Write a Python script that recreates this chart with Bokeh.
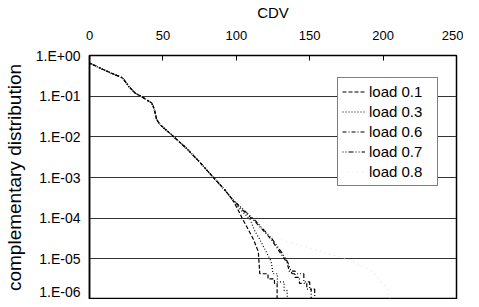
from bokeh.plotting import figure
from bokeh.models import FixedTicker, CustomJSTickFormatter, Range1d, Legend, LegendItem
from bokeh.embed import file_html
from bokeh.resources import INLINE

# ---- data ----
x_ticks = [0, 50, 100, 150, 200, 250]
y_ticks = [1, 1e-1, 1e-2, 1e-3, 1e-4, 1e-5, 1e-6]
y_tick_labels = ["1.E+00", "1.E-01", "1.E-02", "1.E-03", "1.E-04", "1.E-05", "1.E-06"]

head_cdv = [0, 0, 3, 10, 18, 22.6, 27, 31, 37, 42.4, 44, 45.7, 48, 55, 66.6, 75, 85, 92, 97]
head_prob = [1.0, 0.65, 0.58, 0.44, 0.33, 0.28, 0.17, 0.12, 0.09, 0.068, 0.05, 0.027,
             0.02, 0.012, 0.005, 0.0024, 0.00095, 0.0005, 0.0003]

load01_cdv = [101, 104, 108, 111.7, 115, 116, 121.6, 121.6, 126, 126, 127.8, 127.8]
load01_prob = [1.66e-4, 1e-4, 5.4e-5, 3.0e-5, 1.5e-5, 4.3e-6, 4.3e-6, 3.2e-6, 3.2e-6, 2.5e-6, 2.5e-6, 1e-7]

load03_cdv = [103, 109.5, 112.8, 116, 123.8, 125, 128, 128, 132.6, 132.6, 134.7, 134.7]
load03_prob = [1.6e-4, 9.1e-5, 4.7e-5, 3.0e-5, 8.5e-6, 4.3e-6, 4.3e-6, 2.7e-6, 2.7e-6, 1.66e-6, 1.66e-6, 1e-7]

load06_cdv = [105, 112.8, 123.8, 130, 134.7, 136, 140, 140, 143, 143, 148, 148, 151, 151]
load06_prob = [1.5e-4, 8.3e-5, 3.0e-5, 1.4e-5, 7.9e-6, 5e-6, 5e-6, 3.5e-6, 3.5e-6, 2.5e-6,
               2.5e-6, 1.8e-6, 1.8e-6, 1e-7]

load07_cdv = [105, 113, 124, 130, 135, 138, 146, 146, 150, 150, 153.4, 153.4]
load07_prob = [1.6e-4, 8.7e-5, 3.2e-5, 1.6e-5, 8.3e-6, 4.3e-6, 4.3e-6, 2.7e-6, 2.7e-6, 1.8e-6, 1.8e-6, 1e-7]

load08_cdv = [105, 113, 124, 161.6, 175.5, 190, 194, 198.5, 202.5, 204.5, 205]
load08_prob = [1.6e-4, 8.9e-5, 3.5e-5, 1.35e-5, 1e-5, 5.6e-6, 4.5e-6, 2.7e-6, 2e-6, 1.1e-6, 1e-7]

series = [
    ("load 0.1", load01_cdv, load01_prob, "black", "4 2"),
    ("load 0.3", load03_cdv, load03_prob, "black", "1 2"),
    ("load 0.6", load06_cdv, load06_prob, "black", "4 2 1 2"),
    ("load 0.7", load07_cdv, load07_prob, "black", "1 2 1 2 5 2"),
    ("load 0.8", load08_cdv, load08_prob, "#e2e2e2", "1 4"),
]

FONT = "Liberation Sans"

p = figure(width=463, height=299, x_axis_location="above", y_axis_type="log",
           x_range=Range1d(0, 250), y_range=Range1d(1e-6, 1),
           output_backend="svg", toolbar_location=None,
           min_border_left=81, min_border_right=7, min_border_top=48, min_border_bottom=0)

p.background_fill_color = "white"
p.border_fill_color = "white"
p.outline_line_color = "black"
p.outline_line_width = 1.5

xa = p.xaxis[0]
xa.ticker = FixedTicker(ticks=x_ticks)
xa.axis_label = "CDV"
xa.axis_label_text_font = FONT
xa.axis_label_text_font_size = "15px"
xa.axis_label_text_font_style = "normal"
xa.axis_label_text_color = "black"
xa.axis_label_standoff = 7
xa.major_label_text_font = FONT
xa.major_label_text_font_size = "13px"
xa.major_label_text_color = "black"
xa.major_label_standoff = 16
xa.major_tick_in = 5
xa.major_tick_out = 0
xa.minor_tick_line_color = None
xa.axis_line_color = "black"
xa.major_tick_line_color = "black"

ya = p.yaxis[0]
ya.ticker = FixedTicker(ticks=y_ticks)
ya.formatter = CustomJSTickFormatter(args=dict(labels=y_tick_labels),
                                     code="const i = Math.round(-Math.log10(tick)); return labels[i];")
ya.axis_label = "complementary distribution"
ya.axis_label_text_font = FONT
ya.axis_label_text_font_size = "19px"
ya.axis_label_text_font_style = "normal"
ya.axis_label_text_color = "black"
ya.axis_label_standoff = 8
ya.major_label_text_font = FONT
ya.major_label_text_font_size = "14px"
ya.major_label_text_color = "black"
ya.major_label_standoff = 9
ya.major_tick_in = 0
ya.major_tick_out = 0
ya.minor_tick_line_color = None
ya.axis_line_color = "black"
ya.axis_line_width = 1.5

p.xgrid.visible = False
p.ygrid.grid_line_color = "#333333"
p.ygrid.grid_line_width = 1

items = []
for name, xs, ys, color, dash in series:
    r = p.line(head_cdv + xs, head_prob + ys, line_color=color, line_width=1.2, line_dash=dash)
    items.append(LegendItem(label=name, renderers=[r]))

legend = Legend(items=items, location=(248, 113))
legend.label_text_font = FONT
legend.label_text_font_size = "15px"
legend.label_text_color = "black"
legend.label_height = 19
legend.glyph_height = 19
legend.glyph_width = 23
legend.label_standoff = 4
legend.label_width = 64
legend.padding = 4
legend.spacing = 1
legend.margin = 0
legend.border_line_color = "black"
legend.border_line_width = 1
legend.background_fill_color = "white"
legend.background_fill_alpha = 1.0
p.add_layout(legend)

open("out.html", "w").write(file_html(p, INLINE))
